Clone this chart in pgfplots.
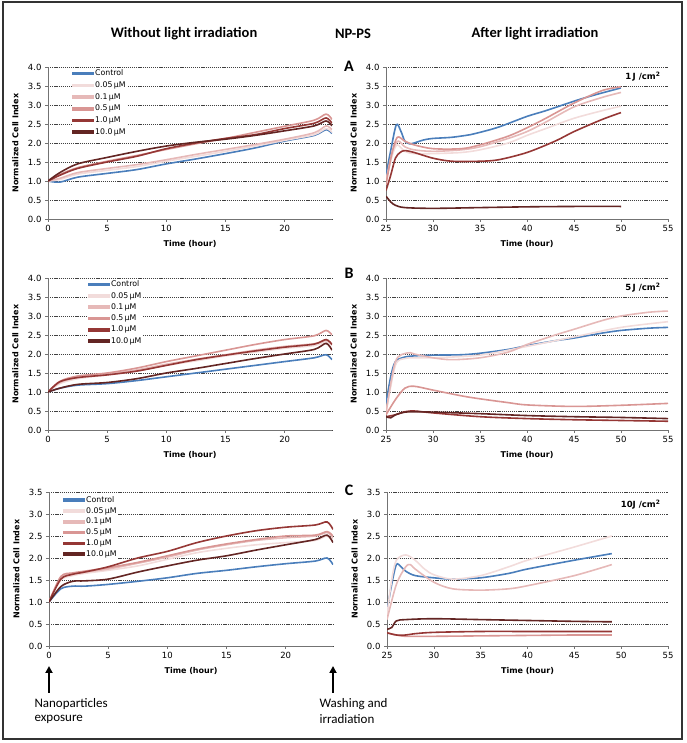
\documentclass[border=0pt]{standalone}
\usepackage{fontspec}
\setmainfont{DejaVu Sans}
\newfontfamily\carl{Carlito}
\usepackage{pgfplots}
\pgfplotsset{compat=1.18}
\usetikzlibrary{arrows.meta}
\definecolor{cctrl}{HTML}{4A7EBB}
\definecolor{c005}{HTML}{F2DCDB}
\definecolor{c01}{HTML}{E6B9B8}
\definecolor{c05}{HTML}{D99694}
\definecolor{c1}{HTML}{953735}
\definecolor{c10}{HTML}{632523}
\pgfplotsset{
  panel/.style={
    scale only axis, width=284pt, height=152pt, anchor=south west,
    axis x line*=bottom, axis y line*=left,
    axis line style={black!55, line width=0.6pt},
    tick align=outside, major tick length=3pt,
    tick style={black!55, line width=0.6pt},
    ymajorgrids, major grid style={black!75, dash pattern=on 1.2pt off 0.9pt, line width=0.45pt},
    ymin=0,
    yticklabel style={/pgf/number format/.cd, fixed, fixed zerofill, precision=1},
    /pgf/number format/assume math mode=true,
    ticklabel style={font=\fontsize{8.5}{10}\selectfont},
    xlabel={Time (hour)}, ylabel={Normalized Cell Index},
    label style={font=\bfseries\fontsize{8}{9}\selectfont},
    xlabel style={at={(axis description cs:0.5,-0.165)}, anchor=center},
    ylabel style={at={(axis description cs:-0.115,0.5)}, anchor=center},
    every axis plot/.append style={line width=1.6pt, smooth, tension=0.5, no marks},
  },
  leftp/.style={panel, xmin=0, xmax=24, xtick={0,5,10,15,20}},
  rightp/.style={panel, xmin=25, xmax=55, xtick={25,30,...,55}, width=282pt},
  leg/.style 2 args={legend style={at={#1}, anchor=north west, draw=none, fill=white, inner sep=0pt,
      font=\fontsize{7.8}{8}\selectfont, row sep=#2, nodes={inner sep=1.2pt}},
      legend cell align=left,
      legend image code/.code={\path[##1] (0pt,-1pt) rectangle (20pt,1pt); \fill[##1] (0pt,-1.05pt) rectangle (20pt,1.05pt);}},
}
\begin{document}
\begin{tikzpicture}
\useasboundingbox (0pt,0pt) rectangle (686pt,743pt);
\draw[black!80, line width=1.2pt] (3pt,4pt) rectangle (682pt,741pt);

% titles
\node[font=\carl\bfseries\fontsize{14.5}{16}\selectfont] at (184pt,709pt) {Without light irradiation};
\node[font=\carl\bfseries\fontsize{14.5}{16}\selectfont] at (353pt,709pt) {NP-PS};
\node[font=\carl\bfseries\fontsize{14.5}{16}\selectfont] at (535pt,709pt) {After light irradiation};
\node[font=\carl\bfseries\fontsize{16}{18}\selectfont] at (349pt,677pt) {A};
\node[font=\carl\bfseries\fontsize{16}{18}\selectfont] at (349pt,470pt) {B};
\node[font=\carl\bfseries\fontsize{16}{18}\selectfont] at (349pt,253pt) {C};
\node[font=\bfseries\fontsize{8.5}{10}\selectfont, anchor=east] at (664pt,666pt) {1\,J /cm\textsuperscript{2}};
\node[font=\bfseries\fontsize{8.5}{10}\selectfont, anchor=east] at (664pt,455pt) {5\,J /cm\textsuperscript{2}};
\node[font=\bfseries\fontsize{8.5}{10}\selectfont, anchor=east] at (664pt,238pt) {10J /cm\textsuperscript{2}};

% ---------- top left ----------
\begin{axis}[leftp, at={(48pt,524pt)}, ymax=4, ytick={0,0.5,...,4}, leg={(0.085,0.99)}{2pt}]
\addplot[cctrl] coordinates {(0,1.0)(1,0.97)(2.5,1.1)(5,1.2)(7.5,1.3)(10,1.45)(12.5,1.58)(15,1.72)(17.5,1.87)(20,2.05)(22.5,2.2)(23.5,2.35)(24,2.25)};
\addplot[c005] coordinates {(0,1.0)(1,1.04)(2.5,1.18)(5,1.28)(7.5,1.38)(10,1.52)(12.5,1.65)(15,1.78)(17.5,1.92)(20,2.07)(22.5,2.22)(23.5,2.38)(24,2.28)};
\addplot[c01] coordinates {(0,1.0)(1,1.07)(2.5,1.22)(5,1.33)(7.5,1.43)(10,1.56)(12.5,1.7)(15,1.83)(17.5,1.96)(20,2.1)(22.5,2.27)(23.5,2.45)(24,2.35)};
\addplot[c05] coordinates {(0,1.0)(1,1.17)(2.5,1.35)(5,1.52)(7.5,1.67)(10,1.83)(12.5,1.98)(15,2.12)(17.5,2.28)(20,2.44)(22.5,2.6)(23.5,2.76)(24,2.62)};
\addplot[c1] coordinates {(0,1.0)(1,1.15)(2.5,1.33)(5,1.5)(7.5,1.65)(10,1.85)(12.5,2.0)(15,2.12)(17.5,2.22)(20,2.38)(22.5,2.52)(23.5,2.66)(24,2.52)};
\addplot[c10] coordinates {(0,1.0)(1,1.22)(2.5,1.45)(5,1.62)(7.5,1.78)(10,1.92)(12.5,2.02)(15,2.1)(17.5,2.2)(20,2.32)(22.5,2.45)(23.5,2.58)(24,2.45)};
\legend{Control, 0.05\,µM, 0.1\,µM, 0.5\,µM, 1.0\,µM, 10.0\,µM}
\end{axis}

% ---------- top right ----------
\begin{axis}[rightp, at={(386pt,524pt)}, ymax=4, ytick={0,0.5,...,4}]
\addplot[cctrl] coordinates {(25,1.15)(25.5,1.8)(26.1,2.48)(26.6,2.3)(27,2.05)(27.5,1.98)(28,2.0)(29,2.08)(30,2.12)(32,2.15)(34,2.22)(35,2.28)(37,2.42)(40,2.7)(42,2.85)(45,3.1)(47,3.25)(50,3.45)};
\addplot[c005] coordinates {(25,1.0)(25.7,1.7)(26.2,1.95)(27,1.78)(28,1.72)(30,1.72)(33,1.75)(35,1.82)(38,2.0)(40,2.2)(42,2.38)(45,2.65)(48,2.85)(50,2.97)};
\addplot[c01] coordinates {(25,1.0)(25.7,1.8)(26.3,2.05)(27,1.9)(28,1.82)(30,1.78)(33,1.82)(35,1.9)(38,2.12)(40,2.3)(42,2.55)(45,2.95)(48,3.2)(50,3.33)};
\addplot[c05] coordinates {(25,0.9)(25.6,1.7)(26.2,2.15)(27,2.05)(28,1.95)(30,1.85)(33,1.85)(35,1.95)(38,2.18)(40,2.4)(42,2.65)(45,3.05)(48,3.38)(50,3.48)};
\addplot[c1] coordinates {(25,0.75)(25.5,1.15)(26,1.6)(26.5,1.75)(27,1.8)(28,1.75)(30,1.6)(32,1.52)(35,1.52)(37,1.56)(40,1.75)(43,2.05)(45,2.3)(48,2.62)(50,2.8)};
\addplot[c10] coordinates {(25,0.6)(25.5,0.45)(26,0.36)(27,0.3)(30,0.28)(35,0.3)(40,0.32)(45,0.33)(50,0.33)};
\end{axis}

% ---------- middle left ----------
\begin{axis}[leftp, at={(48pt,313pt)}, ymax=4, ytick={0,0.5,...,4}, leg={(0.141,0.99)}{1.6pt}]
\addplot[cctrl] coordinates {(0,1.0)(1,1.1)(2.5,1.18)(5,1.22)(7.5,1.3)(10,1.4)(12.5,1.5)(15,1.6)(17.5,1.7)(20,1.8)(22.5,1.9)(23.5,1.98)(24,1.85)};
\addplot[c005] coordinates {(0,1.0)(1,1.22)(2.5,1.35)(5,1.45)(7.5,1.55)(10,1.7)(12.5,1.82)(15,1.95)(17.5,2.05)(20,2.15)(22.5,2.22)(23.5,2.33)(24,2.22)};
\addplot[c01] coordinates {(0,1.0)(1,1.25)(2.5,1.38)(5,1.47)(7.5,1.58)(10,1.73)(12.5,1.86)(15,1.98)(17.5,2.1)(20,2.2)(22.5,2.27)(23.5,2.36)(24,2.25)};
\addplot[c05] coordinates {(0,1.0)(1,1.28)(2.5,1.42)(5,1.5)(7.5,1.63)(10,1.8)(12.5,1.95)(15,2.1)(17.5,2.25)(20,2.38)(22.5,2.48)(23.5,2.62)(24,2.5)};
\addplot[c1] coordinates {(0,1.0)(1,1.27)(2.5,1.38)(5,1.45)(7.5,1.55)(10,1.7)(12.5,1.85)(15,1.97)(17.5,2.08)(20,2.18)(22.5,2.26)(23.5,2.38)(24,2.25)};
\addplot[c10] coordinates {(0,1.0)(1,1.1)(2.5,1.2)(5,1.25)(7.5,1.35)(10,1.5)(12.5,1.62)(15,1.75)(17.5,1.88)(20,2.0)(22.5,2.12)(23.5,2.28)(24,2.1)};
\legend{Control, 0.05\,µM, 0.1\,µM, 0.5\,µM, 1.0\,µM, 10.0\,µM}
\end{axis}

% ---------- middle right ----------
\begin{axis}[rightp, at={(386pt,313pt)}, ymax=4, ytick={0,0.5,...,4}]
\addplot[cctrl] coordinates {(25,0.7)(25.5,1.4)(26,1.8)(27,1.92)(28,1.95)(30,1.97)(33,1.98)(35,2.02)(38,2.12)(40,2.22)(43,2.35)(45,2.42)(48,2.55)(50,2.62)(53,2.68)(55,2.7)};
\addplot[c005] coordinates {(25,0.45)(26,1.7)(27,1.88)(28,1.9)(30,1.9)(35,1.97)(40,2.2)(45,2.45)(50,2.7)(55,2.85)};
\addplot[c01] coordinates {(25,0.45)(26,1.8)(27.3,2.03)(28,2.0)(30,1.9)(32,1.85)(35,1.9)(38,2.05)(40,2.25)(43,2.5)(45,2.65)(48,2.88)(50,3.0)(53,3.1)(55,3.13)};
\addplot[c05] coordinates {(25,0.4)(26,0.8)(27,1.1)(28,1.15)(30,1.05)(33,0.9)(35,0.82)(38,0.72)(40,0.66)(45,0.62)(50,0.65)(55,0.7)};
\addplot[c1] coordinates {(25,0.35)(26,0.4)(27,0.48)(28,0.5)(30,0.45)(35,0.35)(40,0.3)(45,0.27)(50,0.25)(55,0.23)};
\addplot[c10] coordinates {(25,0.35)(25.5,0.32)(26,0.4)(27,0.47)(28,0.48)(30,0.47)(35,0.43)(40,0.38)(45,0.35)(50,0.33)(55,0.3)};
\end{axis}

% ---------- bottom left ----------
\begin{axis}[leftp, at={(49pt,97pt)}, height=154pt, ymax=3.5, ytick={0,0.5,...,3.5}, leg={(0.05,0.98)}{1.1pt}]
\addplot[cctrl] coordinates {(0,1.0)(1,1.3)(2,1.36)(3,1.36)(5,1.4)(7.5,1.47)(10,1.55)(12.5,1.65)(15,1.72)(17.5,1.8)(20,1.87)(22.5,1.93)(23.5,2.0)(24,1.85)};
\addplot[c005] coordinates {(0,1.0)(1,1.5)(2,1.6)(3,1.65)(5,1.72)(7.5,1.82)(10,1.97)(12.5,2.12)(15,2.22)(17.5,2.3)(20,2.35)(22.5,2.4)(23.5,2.5)(24,2.35)};
\addplot[c01] coordinates {(0,1.0)(1,1.55)(2,1.63)(3,1.68)(5,1.75)(7.5,1.88)(10,2.02)(12.5,2.18)(15,2.3)(17.5,2.4)(20,2.46)(22.5,2.5)(23.5,2.58)(24,2.45)};
\addplot[c05] coordinates {(0,1.0)(1,1.58)(2,1.66)(3,1.7)(5,1.78)(7.5,1.9)(10,2.05)(12.5,2.2)(15,2.32)(17.5,2.42)(20,2.5)(22.5,2.52)(23.5,2.6)(24,2.5)};
\addplot[c1] coordinates {(0,1.0)(1,1.52)(2,1.63)(3,1.68)(5,1.8)(7.5,2.0)(10,2.15)(12.5,2.35)(15,2.5)(17.5,2.62)(20,2.7)(22.5,2.75)(23.5,2.82)(24,2.65)};
\addplot[c10] coordinates {(0,1.0)(1,1.35)(2,1.47)(3,1.48)(5,1.52)(7.5,1.68)(10,1.82)(12.5,1.95)(15,2.05)(17.5,2.18)(20,2.3)(22.5,2.42)(23.5,2.52)(24,2.35)};
\legend{Control, 0.05\,µM, 0.1\,µM, 0.5\,µM, 1.0\,µM, 10.0\,µM}
\end{axis}

% ---------- bottom right ----------
\begin{axis}[rightp, at={(387pt,97pt)}, height=154pt, width=281pt, ymax=3.5, ytick={0,0.5,...,3.5}]
\addplot[cctrl] coordinates {(25,0.8)(25.5,1.4)(26,1.85)(26.5,1.8)(27,1.7)(28,1.6)(30,1.55)(32,1.52)(35,1.55)(38,1.65)(40,1.75)(45,1.95)(49,2.1)};
\addplot[c005] coordinates {(25,0.7)(25.5,1.5)(26,1.95)(27,2.07)(28,1.95)(29,1.75)(30,1.62)(32,1.52)(35,1.6)(38,1.8)(40,1.95)(45,2.25)(49,2.5)};
\addplot[c01] coordinates {(25,0.6)(26,1.4)(27,1.8)(27.5,1.85)(28,1.75)(30,1.45)(32,1.3)(35,1.27)(38,1.3)(40,1.37)(45,1.6)(49,1.85)};
\addplot[c05] coordinates {(25,0.3)(26,0.25)(27,0.22)(30,0.22)(35,0.23)(40,0.24)(45,0.25)(49,0.25)};
\addplot[c1] coordinates {(25,0.3)(26,0.25)(27,0.25)(28,0.28)(30,0.31)(35,0.33)(40,0.33)(45,0.33)(49,0.33)};
\addplot[c10] coordinates {(25,0.38)(25.5,0.42)(26,0.57)(27,0.6)(30,0.62)(35,0.6)(40,0.58)(45,0.56)(49,0.55)};
\end{axis}

% arrows and notes
\draw[line width=2.2pt, -{Triangle[length=7pt,width=7pt]}] (49pt,50pt) -- (49pt,77pt);
\draw[line width=2.2pt, -{Triangle[length=7pt,width=7pt]}] (333pt,50pt) -- (333pt,77pt);
\node[font=\carl\fontsize{13}{15}\selectfont, anchor=west] at (31pt,39pt) {Nanoparticles};
\node[font=\carl\fontsize{13}{15}\selectfont, anchor=west] at (31pt,24pt) {exposure};
\node[font=\carl\fontsize{13}{15}\selectfont, anchor=west] at (316pt,39pt) {Washing and};
\node[font=\carl\fontsize{13}{15}\selectfont, anchor=west] at (316pt,24pt) {irradiation};
\end{tikzpicture}
\end{document}
